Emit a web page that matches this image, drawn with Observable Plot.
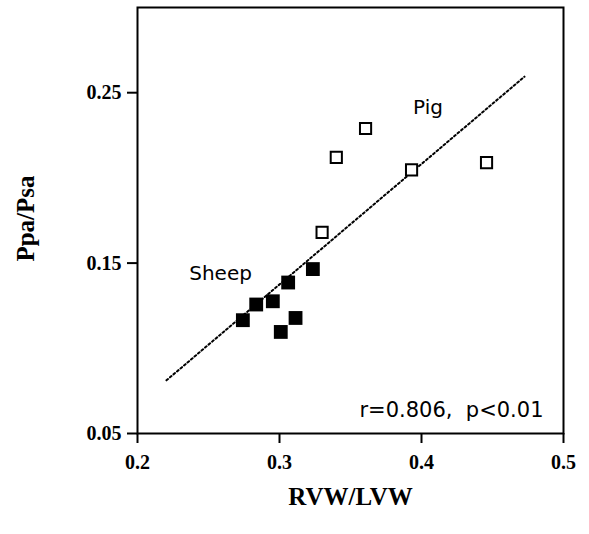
<!DOCTYPE html>
<html>
<head>
<meta charset="utf-8">
<script src="https://cdn.jsdelivr.net/npm/d3@7"></script>
<script src="https://cdn.jsdelivr.net/npm/@observablehq/plot@0.6"></script>
<style>
  html, body { margin: 0; padding: 0; background: #fff; }
</style>
</head>
<body>
<div id="chart"></div>
<script>
const pigX = [0.330, 0.340, 0.3606, 0.393, 0.4458];
const pigY = [0.168, 0.212, 0.229, 0.2047, 0.209];
const sheepX = [0.3235, 0.3061, 0.2953, 0.2836, 0.2742, 0.3113, 0.3009];
const sheepY = [0.1465, 0.1386, 0.1276, 0.1257, 0.1165, 0.1178, 0.1096];
const fitX = [0.2204, 0.4725];
const fitY = [0.0812, 0.2594];
const xTicks = [0.2, 0.3, 0.4, 0.5];
const yTicks = [0.05, 0.15, 0.25];
const groupNames = ["Pig", "Sheep"];
const groupLabelX = [0.4046, 0.2585];
const groupLabelY = [0.2412, 0.1438];
const statText = "r=0.806,  p<0.01";
const statPos = {x: 0.5, y: 0.0635};

const pig = pigX.map((x, i) => ({x, y: pigY[i]}));
const sheep = sheepX.map((x, i) => ({x, y: sheepY[i]}));
const fit = fitX.map((x, i) => ({x, y: fitY[i]}));
const groupLabels = groupNames.map((name, i) => ({name, x: groupLabelX[i], y: groupLabelY[i]}));

const sans = "'DejaVu Sans', sans-serif";
const serif = "'Liberation Serif', 'Times New Roman', serif";

const chart = Plot.plot({
  width: 589,
  height: 534,
  marginLeft: 137,
  marginRight: 26,
  marginTop: 7,
  marginBottom: 101,
  style: {fontFamily: serif, fontSize: "20px", fontWeight: "bold", color: "#000", background: "#fff"},
  x: {domain: [0.2, 0.5]},
  y: {domain: [0.05, 0.30]},
  marks: [
    Plot.frame({stroke: "#000", strokeWidth: 2}),
    Plot.axisX({ticks: xTicks, tickFormat: d => d.toFixed(1), tickSize: 10, tickPadding: 11, strokeWidth: 2, label: null, fontSize: 20, fontWeight: "bold", fontFamily: serif}),
    Plot.axisY({ticks: yTicks, tickFormat: d => d.toFixed(2), tickSize: 10, tickPadding: 6, strokeWidth: 2, label: null, fontSize: 20, fontWeight: "bold", fontFamily: serif}),
    Plot.line(fit, {x: "x", y: "y", stroke: "#000", strokeWidth: 2, strokeDasharray: "2,2.6"}),
    Plot.dot(sheep, {x: "x", y: "y", symbol: "square", r: 7.8, fill: "#000", stroke: "none"}),
    Plot.dot(pig, {x: "x", y: "y", symbol: "square", r: 6.3, fill: "#fff", stroke: "#000", strokeWidth: 2}),
    Plot.text(groupLabels, {x: "x", y: "y", text: "name", fontFamily: sans, fontSize: 20, fontWeight: "normal", fill: "#000", lineAnchor: "middle"}),
    Plot.text([statText], {x: () => statPos.x, y: () => statPos.y, text: d => d, dx: -20, fontFamily: sans, fontSize: 21, fontWeight: "normal", textAnchor: "end", lineAnchor: "middle", fill: "#000"}),
    Plot.text(["RVW/LVW"], {frameAnchor: "bottom", dy: 63, lineAnchor: "middle", fontFamily: serif, fontSize: 25, fontWeight: "bold", fill: "#000"}),
    Plot.text(["Ppa/Psa"], {frameAnchor: "left", dx: -112, dy: -2, rotate: -90, textAnchor: "middle", lineAnchor: "middle", fontFamily: serif, fontSize: 25, fontWeight: "bold", fill: "#000"})
  ]
});
document.getElementById("chart").appendChild(chart);
</script>
</body>
</html>
